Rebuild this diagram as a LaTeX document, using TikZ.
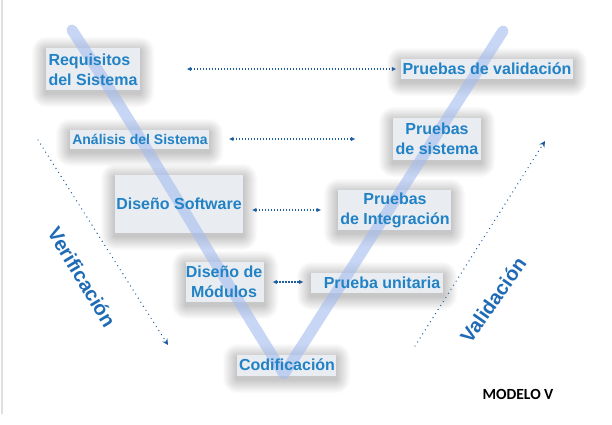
\documentclass[tikz,border=0pt]{standalone}
\usepackage{fontspec}
\setmainfont{Liberation Sans}
\newfontfamily\calib{Carlito}
\usetikzlibrary{arrows.meta,calc}
\definecolor{txtblue}{HTML}{2182C6}
\definecolor{rotblue}{HTML}{1F6BB5}
\definecolor{arrblue}{HTML}{1E5E9E}
\definecolor{vblue}{HTML}{A4BCF0}
\definecolor{boxgray}{HTML}{E9ECF0}
\tikzset{
  labbox/.style={fill=boxgray, draw=none},
  glow/.style={fill=black, opacity=0.016, draw=none},
  lab/.style={inner sep=0pt, text=txtblue, font=\bfseries\fontsize{16}{20}\selectfont, align=center},
  darr/.style={arrblue, line width=1.3pt, dash pattern=on 1.3pt off 1.7pt,
    {Latex[length=4.5pt,width=4.5pt]}-{Latex[length=4.5pt,width=4.5pt]}},
  diagarr/.style={arrblue, line width=1.4pt, line cap=round, dash pattern=on 0pt off 4.8pt,
    -{Stealth[length=6pt,width=6pt,line cap=butt]}},
  rottxt/.style={inner sep=0pt, text=rotblue, font=\bfseries\fontsize{20}{24}\selectfont}
}
\newcommand\myglowbox[4]{%
  \foreach \gi in {1,...,14}{%
    \fill[glow, rounded corners=\gi pt] (#1-\gi,#2-\gi+3) rectangle (#3+\gi,#4+\gi+3);
  }%
  \fill[labbox] (#1,#2) rectangle (#3,#4);
}
\begin{document}
\begin{tikzpicture}[x=1pt,y=-1pt]
\useasboundingbox (0,0) rectangle (612,424);
\fill[white] (0,0) rectangle (612,424);
\draw[gray!25, line width=1.3pt] (2,0) -- (2,414);
% boxes
\myglowbox{46}{48}{140}{90}
\myglowbox{70}{130}{209}{149}
\myglowbox{115}{175}{243}{233}
\myglowbox{186}{262}{264}{302}
\myglowbox{237}{355}{336}{376}
\myglowbox{311}{273}{443}{293}
\myglowbox{338}{190}{451}{230}
\myglowbox{393}{118}{481}{160}
\myglowbox{401}{59}{573}{79}
% V stroke
\draw[vblue, line width=11pt, line cap=round, line join=round, opacity=0.6]
  (72,30) .. controls (150,150) and (230,290) .. (284,374) -- (503,31);
% labels
\node[lab, align=left] (req) at (93,70) {Requisitos\\del Sistema};
\node[lab, font=\bfseries\fontsize{14}{18}\selectfont] (ana) at (140,139) {Análisis del Sistema};
\node[lab] (ds) at (179,204) {Diseño Software};
\node[lab] (mod) at (224,282) {Diseño de\\Módulos};
\node[lab] (cod) at (287,365) {Codificación};
\node[lab] (uni) at (382,283) {Prueba unitaria};
\node[lab] (int) at (395,210) {Pruebas\\de Integración};
\node[lab] (sis) at (437,139) {Pruebas\\de sistema};
\node[lab] (val) at (487,69) {Pruebas de validación};
% horizontal arrows
\draw[darr, shorten <=49pt, shorten >=6pt] (val.west -| req.east) -- (val.west);
\draw[darr, shorten <=21pt, shorten >=40pt] (ana.east) -- (ana.east -| sis.west);
\draw[darr, shorten <=10pt, shorten >=19pt] (int.west -| ds.east) -- (int.west);
\draw[darr, shorten <=10pt, shorten >=20pt] (mod.east) -- (mod.east -| uni.west);
% diagonal arrows
\coordinate (vs) at (38,140);
\coordinate (ve) at (168,345);
\coordinate (as) at (415,346);
\coordinate (ae) at (545,141);
\draw[diagarr] (vs) -- (ve);
\draw[diagarr] (as) -- (ae);
\node[rottxt, rotate=-59] (verif) at (82,277) {Verificación};
\node[rottxt, rotate=55] (valid) at (493,300) {Validación};
\node[inner sep=0pt, font=\calib\bfseries\fontsize{15.5}{18}\selectfont] (mv) at (518,394) {MODELO V};
\end{tikzpicture}
\end{document}
